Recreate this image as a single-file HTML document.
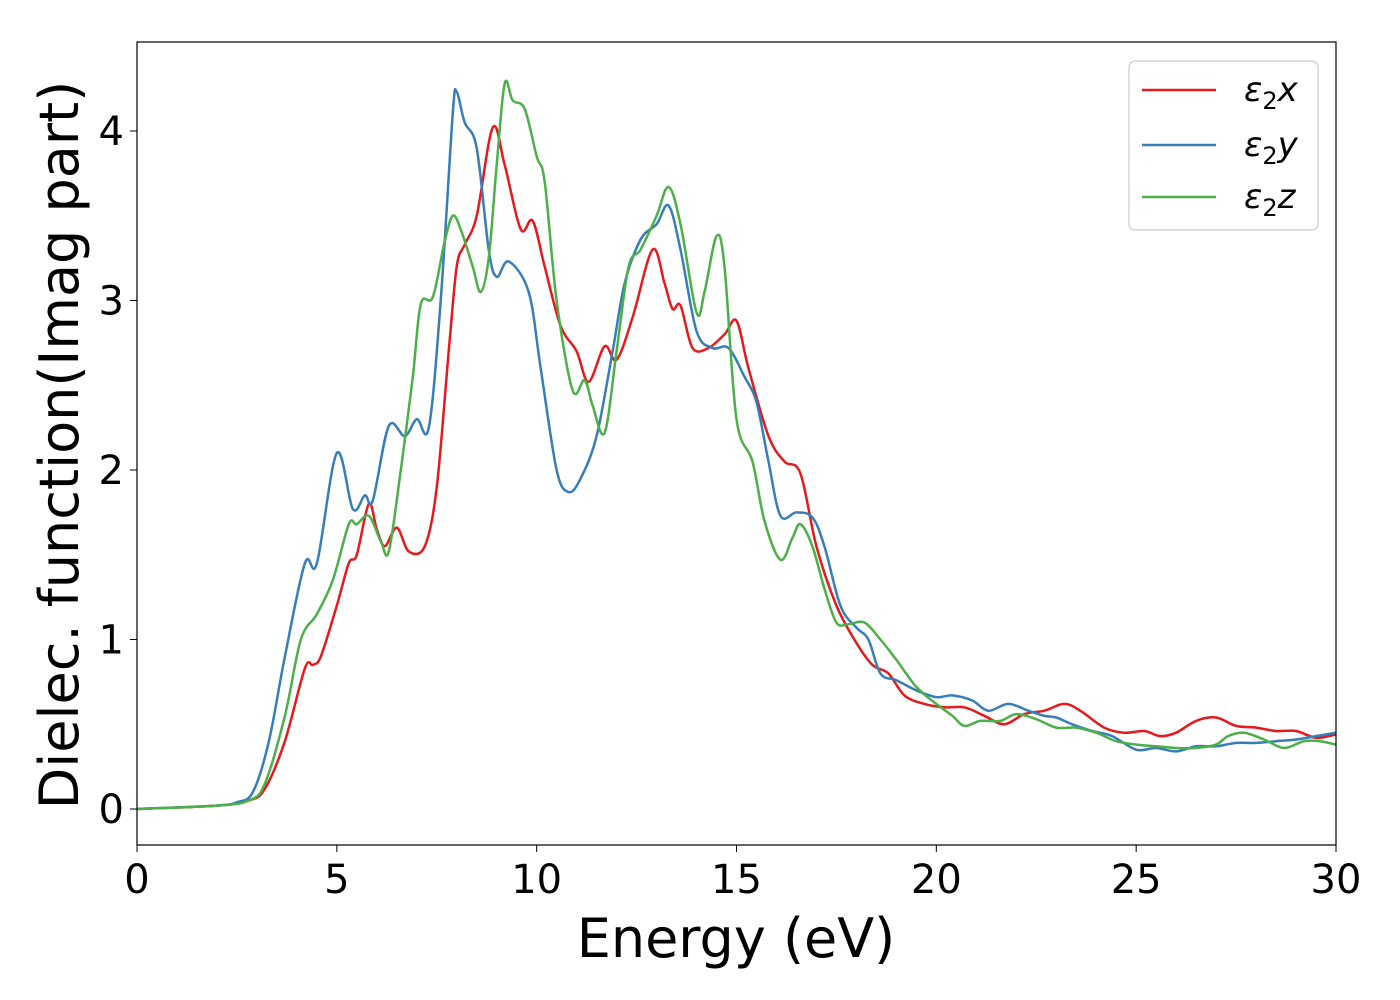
<!DOCTYPE html>
<html><head><meta charset="utf-8"><style>
html,body{margin:0;padding:0;background:#fff;}
svg{display:block;font-family:"DejaVu Sans","Liberation Sans",sans-serif;}
</style></head><body>
<svg id="chart" width="1400" height="1000" viewBox="0 0 1400 1000">
<rect x="0" y="0" width="1400" height="1000" fill="#fff"/>
<g id="series"></g>
<rect x="137" y="42" width="1199" height="803" fill="none" stroke="#000" stroke-width="1.2"/>
<g id="xticks"></g><g id="yticks"></g>
<text x="736" y="957" font-size="54" text-anchor="middle">Energy (eV)</text>
<text transform="translate(78,445) rotate(-90)" font-size="54" text-anchor="middle">Dielec. function(Imag part)</text>
<g>
<rect x="1129" y="61" width="189" height="169" rx="6" fill="#fff" stroke="#ccc" stroke-width="1.2"/>
<g><line x1="1142" y1="90" x2="1216" y2="90" stroke="#e41a1c" stroke-width="2.6"/><text x="1244" y="101" font-size="34"><tspan font-style="italic">ε</tspan><tspan font-size="24" dy="8">2</tspan><tspan font-style="italic" dy="-8">x</tspan></text></g>
<g><line x1="1142" y1="145" x2="1216" y2="145" stroke="#377eb8" stroke-width="2.6"/><text x="1244" y="156" font-size="34"><tspan font-style="italic">ε</tspan><tspan font-size="24" dy="8">2</tspan><tspan font-style="italic" dy="-8">y</tspan></text></g>
<g><line x1="1142" y1="197" x2="1216" y2="197" stroke="#4daf4a" stroke-width="2.6"/><text x="1244" y="208" font-size="34"><tspan font-style="italic">ε</tspan><tspan font-size="24" dy="8">2</tspan><tspan font-style="italic" dy="-8">z</tspan></text></g>
</g>
</svg>
<script>
const xTickLabels=[0,5,10,15,20,25,30];
const yTickLabels=[0,1,2,3,4];
const redX=[0,2,2.8,3.2,3.7,4.2,4.4,4.6,5.0,5.3,5.5,5.8,6.0,6.2,6.5,6.8,7.2,7.5,7.8,8.0,8.2,8.5,8.9,9.2,9.6,9.9,10.2,10.6,11.0,11.3,11.7,12.0,12.4,12.9,13.2,13.4,13.6,13.9,14.3,14.7,15.0,15.3,15.8,16.2,16.6,17.0,17.5,18.0,18.4,18.8,19.2,19.7,20.2,20.7,21.2,21.7,22.2,22.7,23.2,23.6,24.2,24.7,25.2,25.6,26.0,26.5,27.0,27.5,28.0,28.5,29.0,29.5,30];
const redY=[0,0.02,0.05,0.12,0.4,0.83,0.85,0.9,1.2,1.45,1.5,1.8,1.65,1.55,1.66,1.52,1.55,1.9,2.7,3.2,3.33,3.5,4.02,3.8,3.42,3.47,3.2,2.85,2.7,2.52,2.73,2.65,2.9,3.3,3.1,2.95,2.97,2.72,2.72,2.8,2.88,2.6,2.2,2.05,1.98,1.55,1.2,0.98,0.85,0.8,0.67,0.62,0.6,0.6,0.55,0.5,0.56,0.58,0.62,0.58,0.48,0.45,0.46,0.43,0.45,0.52,0.54,0.49,0.48,0.46,0.46,0.42,0.44];
const blueX=[0,2,2.5,2.9,3.3,3.7,4.2,4.5,5.0,5.4,5.7,5.9,6.3,6.7,7.0,7.3,7.6,7.9,8.0,8.2,8.5,8.8,9.0,9.3,9.8,10.1,10.5,10.8,11.1,11.5,11.9,12.2,12.6,13.0,13.3,13.6,14.0,14.4,14.8,15.2,15.5,15.8,16.1,16.5,16.9,17.2,17.6,18.0,18.3,18.6,19.0,19.5,20.0,20.4,20.9,21.3,21.8,22.3,22.7,23.0,23.4,23.9,24.4,25.0,25.5,26.0,26.5,27.0,27.5,28.0,28.5,29.0,29.5,30];
const blueY=[0,0.02,0.04,0.1,0.4,0.9,1.45,1.45,2.1,1.77,1.85,1.82,2.26,2.2,2.3,2.25,3.0,4.1,4.23,4.05,3.9,3.3,3.14,3.23,3.05,2.6,2.0,1.87,1.95,2.2,2.7,3.1,3.36,3.45,3.56,3.3,2.82,2.72,2.72,2.55,2.4,2.05,1.73,1.75,1.72,1.55,1.2,1.07,1.0,0.8,0.76,0.7,0.66,0.67,0.64,0.58,0.62,0.58,0.55,0.54,0.5,0.46,0.43,0.35,0.36,0.34,0.37,0.37,0.39,0.39,0.40,0.41,0.43,0.45];
const greenX=[0,2,2.8,3.2,3.7,4.1,4.5,4.9,5.3,5.5,5.8,6.1,6.3,6.6,6.9,7.1,7.4,7.7,7.9,8.1,8.4,8.6,8.8,9.0,9.2,9.4,9.7,10.0,10.2,10.5,10.9,11.2,11.4,11.7,12.0,12.3,12.6,13.0,13.3,13.6,14.0,14.2,14.5,14.7,15.0,15.4,15.7,16.1,16.4,16.6,16.9,17.2,17.5,17.8,18.2,18.6,19.0,19.5,20.0,20.4,20.7,21.1,21.6,22.0,22.5,23.0,23.5,24.0,24.5,25.0,25.5,26.0,26.5,27.0,27.3,27.7,28.2,28.7,29.2,29.6,30];
const greenY=[0,0.02,0.05,0.15,0.55,1.0,1.15,1.35,1.68,1.68,1.73,1.58,1.52,2.0,2.55,2.98,3.02,3.35,3.5,3.42,3.2,3.05,3.25,3.8,4.28,4.18,4.13,3.85,3.7,3.0,2.47,2.53,2.38,2.22,2.7,3.2,3.3,3.5,3.67,3.45,2.93,3.05,3.38,3.2,2.3,2.05,1.7,1.47,1.6,1.68,1.55,1.3,1.1,1.09,1.1,1.0,0.88,0.72,0.62,0.55,0.49,0.52,0.52,0.56,0.53,0.48,0.48,0.45,0.40,0.38,0.37,0.36,0.36,0.38,0.43,0.45,0.41,0.36,0.40,0.40,0.38];

const X0=137,X1=1336,Y0=809,YPX=169.5;
function sx(v){return X0+(X1-X0)*v/30;}
function sy(v){return Y0-v*YPX;}
const NS="http://www.w3.org/2000/svg";
function pathFor(xs,ys){
  const p=xs.map((x,i)=>[sx(x),sy(ys[i])]);
  let d="M"+p[0][0].toFixed(1)+","+p[0][1].toFixed(1);
  for(let i=0;i<p.length-1;i++){
    const a=p[Math.max(i-1,0)],b=p[i],c=p[i+1],e=p[Math.min(i+2,p.length-1)];
    const c1=[b[0]+(c[0]-a[0])/6,b[1]+(c[1]-a[1])/6];
    const c2=[c[0]-(e[0]-b[0])/6,c[1]-(e[1]-b[1])/6];
    d+="C"+c1.map(v=>v.toFixed(1))+" "+c2.map(v=>v.toFixed(1))+" "+c[0].toFixed(1)+","+c[1].toFixed(1);
  }
  return d;
}
const g=document.getElementById("series");
[[redX,redY,"#e41a1c","series-eps2-x"],[blueX,blueY,"#377eb8","series-eps2-y"],[greenX,greenY,"#4daf4a","series-eps2-z"]].forEach(s=>{
  const el=document.createElementNS(NS,"path");
  el.setAttribute("d",pathFor(s[0],s[1]));
  el.setAttribute("fill","none");
  el.setAttribute("stroke",s[2]);
  el.setAttribute("stroke-width","2.5");
  
  
  g.appendChild(el);
});
const xt=document.getElementById("xticks");
xTickLabels.forEach(v=>{
  const l=document.createElementNS(NS,"line");
  l.setAttribute("x1",sx(v));l.setAttribute("x2",sx(v));l.setAttribute("y1",845);l.setAttribute("y2",852);
  l.setAttribute("stroke","#000");
  
  
  xt.appendChild(l);
  const t=document.createElementNS(NS,"text");
  t.setAttribute("x",sx(v));t.setAttribute("y",893);t.setAttribute("font-size","40");t.setAttribute("text-anchor","middle");
  t.textContent=v;
  
  
  xt.appendChild(t);
});
const yt=document.getElementById("yticks");
yTickLabels.forEach(v=>{
  const l=document.createElementNS(NS,"line");
  l.setAttribute("x1",130);l.setAttribute("x2",137);l.setAttribute("y1",sy(v));l.setAttribute("y2",sy(v));
  l.setAttribute("stroke","#000");
  
  
  yt.appendChild(l);
  const t=document.createElementNS(NS,"text");
  t.setAttribute("x",124);t.setAttribute("y",sy(v)+14);t.setAttribute("font-size","40");t.setAttribute("text-anchor","end");
  t.textContent=v;
  
  
  yt.appendChild(t);
});
</script>
</body></html>
